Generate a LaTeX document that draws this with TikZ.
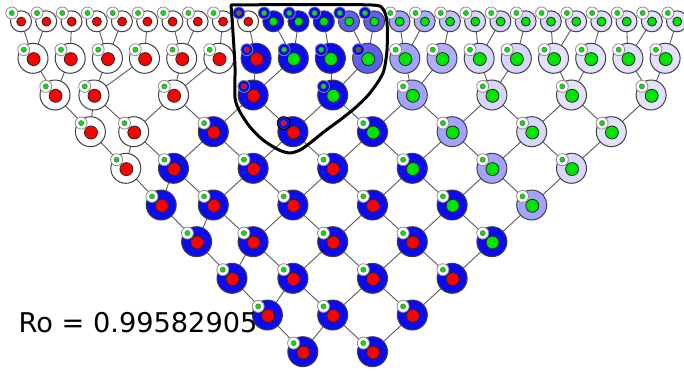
\documentclass[tikz,border=0pt]{standalone}
\usepackage{fontspec}
\newfontfamily\djv{DejaVu Sans}
\usetikzlibrary{backgrounds}
\definecolor{cblue}{RGB}{10,10,245}
\definecolor{cmed}{RGB}{95,95,240}
\definecolor{clbA}{RGB}{162,162,255}
\definecolor{clbB}{RGB}{175,175,255}
\definecolor{clbC}{RGB}{195,195,255}
\definecolor{clavA}{RGB}{214,214,255}
\definecolor{clavB}{RGB}{226,226,255}
\definecolor{cred}{RGB}{255,0,0}
\definecolor{cgreen}{RGB}{0,230,0}
\definecolor{colive}{RGB}{110,110,0}
\definecolor{colivg}{RGB}{70,120,0}
\tikzset{
 outerbig/.style={circle,draw=black!75,line width=1pt,minimum size=30pt,inner sep=0pt,outer sep=0pt},
 outersm/.style={circle,draw=black!75,line width=1pt,minimum size=21pt,inner sep=0pt,outer sep=0pt},
 corebig/.style={circle,draw=black!85,line width=0.8pt,minimum size=13pt,inner sep=0pt},
 coresm/.style={circle,draw=black!85,line width=0.8pt,minimum size=9pt,inner sep=0pt},
 badge/.style={circle,draw=black!45,line width=0.8pt,minimum size=12pt,inner sep=0pt},
 badgedot/.style={circle,draw=black!60,line width=0.5pt,minimum size=5.2pt,inner sep=0pt},
 edgeln/.style={draw=black!65,line width=0.9pt},
 loopline/.style={draw=black,line width=3pt,line cap=round,line join=round},
}
\newcommand\BN[7]{%
 \node[outerbig,fill=#4] (#1) at (#2,#3) {};
 \node[corebig,fill=#5] (#1c) at ({#2+0.6},{#3+0.8}) {};
 \node[badge,fill=#6] (#1b) at ({#2-9.2},{#3-8.6}) {};
 \node[badgedot,fill=#7] (#1d) at (#1b.center) {};
}
\newcommand\SN[7]{%
 \node[outersm,fill=#4] (#1) at (#2,#3) {};
 \node[coresm,fill=#5] (#1c) at ({#2+0.2},{#3+0.3}) {};
 \node[badge,fill=#6] (#1b) at ({#2-9.2},{#3-8.3}) {};
 \node[badgedot,fill=#7] (#1d) at (#1b.center) {};
}
\begin{document}
\begin{tikzpicture}[x=1pt,y=-1pt]
\useasboundingbox (0,0) rectangle (684,370);
% row 1
\SN{n1-0}{21.0}{21.3}{white}{cred}{white}{cgreen}
\SN{n1-1}{46.2}{21.3}{white}{cred}{white}{cgreen}
\SN{n1-2}{71.5}{21.3}{white}{cred}{white}{cgreen}
\SN{n1-3}{96.7}{21.3}{white}{cred}{white}{cgreen}
\SN{n1-4}{121.9}{21.3}{white}{cred}{white}{cgreen}
\SN{n1-5}{147.2}{21.3}{white}{cred}{white}{cgreen}
\SN{n1-6}{172.4}{21.3}{white}{cred}{white}{cgreen}
\SN{n1-7}{197.6}{21.3}{white}{cred}{white}{cgreen}
\SN{n1-8}{222.8}{21.3}{white}{cred}{white}{cgreen}
\SN{n1-9}{248.1}{21.3}{white}{cred}{cblue}{colive}
\SN{n1-10}{273.3}{21.3}{cblue}{cgreen}{cblue}{cgreen}
\SN{n1-11}{298.5}{21.3}{cblue}{cgreen}{cblue}{cgreen}
\SN{n1-12}{323.8}{21.3}{cblue}{cgreen}{cblue}{cgreen}
\SN{n1-13}{349.0}{21.3}{cmed}{cgreen}{cblue}{cgreen}
\SN{n1-14}{374.2}{21.3}{cmed}{cgreen}{cblue}{cgreen}
\SN{n1-15}{399.5}{21.3}{clbA}{cgreen}{white}{cgreen}
\SN{n1-16}{424.7}{21.3}{clbB}{cgreen}{white}{cgreen}
\SN{n1-17}{449.9}{21.3}{clbC}{cgreen}{white}{cgreen}
\SN{n1-18}{475.1}{21.3}{clavA}{cgreen}{white}{cgreen}
\SN{n1-19}{500.4}{21.3}{clavA}{cgreen}{white}{cgreen}
\SN{n1-20}{525.6}{21.3}{clavA}{cgreen}{white}{cgreen}
\SN{n1-21}{550.8}{21.3}{clavA}{cgreen}{white}{cgreen}
\SN{n1-22}{576.1}{21.3}{clavB}{cgreen}{white}{cgreen}
\SN{n1-23}{601.3}{21.3}{clavB}{cgreen}{white}{cgreen}
\SN{n1-24}{626.5}{21.3}{clavB}{cgreen}{white}{cgreen}
\SN{n1-25}{651.8}{21.3}{clavB}{cgreen}{white}{cgreen}
\SN{n1-26}{677.0}{21.3}{clavB}{cgreen}{white}{cgreen}
% row 2
\BN{n2-0}{33.0}{58.3}{white}{cred}{white}{cgreen}
\BN{n2-1}{70.2}{58.3}{white}{cred}{white}{cgreen}
\BN{n2-2}{107.4}{58.3}{white}{cred}{white}{cgreen}
\BN{n2-3}{144.5}{58.3}{white}{cred}{white}{cgreen}
\BN{n2-4}{181.7}{58.3}{white}{cred}{white}{cgreen}
\BN{n2-5}{218.9}{58.3}{white}{cred}{white}{cgreen}
\BN{n2-6}{256.1}{58.3}{cblue}{cred}{cblue}{cred}
\BN{n2-7}{293.3}{58.3}{cblue}{cgreen}{cblue}{cgreen}
\BN{n2-8}{330.4}{58.3}{cblue}{cgreen}{cblue}{cgreen}
\BN{n2-9}{367.6}{58.3}{cmed}{cgreen}{cblue}{colivg}
\BN{n2-10}{404.8}{58.3}{clbA}{cgreen}{white}{cgreen}
\BN{n2-11}{442.0}{58.3}{clbB}{cgreen}{white}{cgreen}
\BN{n2-12}{479.2}{58.3}{clavA}{cgreen}{white}{cgreen}
\BN{n2-13}{516.3}{58.3}{clavA}{cgreen}{white}{cgreen}
\BN{n2-14}{553.5}{58.3}{clavB}{cgreen}{white}{cgreen}
\BN{n2-15}{590.7}{58.3}{clavB}{cgreen}{white}{cgreen}
\BN{n2-16}{627.9}{58.3}{clavB}{cgreen}{white}{cgreen}
\BN{n2-17}{665.1}{58.3}{clavB}{cgreen}{white}{cgreen}
% row 3
\BN{n3-0}{55.0}{95.0}{white}{cred}{white}{cgreen}
\BN{n3-1}{93.9}{95.0}{white}{cred}{white}{cgreen}
\BN{n3-2}{173.5}{95.0}{white}{cred}{white}{cgreen}
\BN{n3-3}{253.1}{95.0}{cblue}{cred}{cblue}{cred}
\BN{n3-4}{332.7}{95.0}{cblue}{cgreen}{cblue}{cgreen}
\BN{n3-5}{412.3}{95.0}{clbA}{cgreen}{white}{cgreen}
\BN{n3-6}{491.9}{95.0}{clavA}{cgreen}{white}{cgreen}
\BN{n3-7}{571.5}{95.0}{clavB}{cgreen}{white}{cgreen}
\BN{n3-8}{651.1}{95.0}{clavB}{cgreen}{white}{cgreen}
% row 4
\BN{n4-0}{90.4}{131.7}{white}{cred}{white}{cgreen}
\BN{n4-1}{133.7}{131.7}{white}{cred}{white}{cgreen}
\BN{n4-2}{213.3}{131.7}{cblue}{cred}{white}{cgreen}
\BN{n4-3}{292.9}{131.7}{cblue}{cred}{cblue}{cred}
\draw[black,line width=1.2pt] (n4-3b) circle (6.3pt);
\BN{n4-4}{372.5}{131.7}{cblue}{cgreen}{white}{cgreen}
\BN{n4-5}{452.1}{131.7}{clbA}{cgreen}{white}{cgreen}
\BN{n4-6}{531.7}{131.7}{clavA}{cgreen}{white}{cgreen}
\BN{n4-7}{611.3}{131.7}{clavB}{cgreen}{white}{cgreen}
% row 5
\BN{n5-0}{125.8}{168.3}{white}{cred}{white}{cgreen}
\BN{n5-1}{173.5}{168.3}{cblue}{cred}{white}{cgreen}
\BN{n5-2}{253.1}{168.3}{cblue}{cred}{white}{cgreen}
\BN{n5-3}{332.7}{168.3}{cblue}{cred}{white}{cgreen}
\BN{n5-4}{412.3}{168.3}{cblue}{cgreen}{white}{cgreen}
\BN{n5-5}{491.9}{168.3}{clbA}{cgreen}{white}{cgreen}
\BN{n5-6}{571.5}{168.3}{clavA}{cgreen}{white}{cgreen}
% row 6
\BN{n6-0}{161.2}{205.0}{cblue}{cred}{white}{cgreen}
\BN{n6-1}{213.3}{205.0}{cblue}{cred}{white}{cgreen}
\BN{n6-2}{292.9}{205.0}{cblue}{cred}{white}{cgreen}
\BN{n6-3}{372.5}{205.0}{cblue}{cred}{white}{cgreen}
\BN{n6-4}{452.1}{205.0}{cblue}{cgreen}{white}{cgreen}
\BN{n6-5}{531.7}{205.0}{clbA}{cgreen}{white}{cgreen}
% row 7
\BN{n7-0}{196.6}{241.7}{cblue}{cred}{white}{cgreen}
\BN{n7-1}{253.1}{241.7}{cblue}{cred}{white}{cgreen}
\BN{n7-2}{332.7}{241.7}{cblue}{cred}{white}{cgreen}
\BN{n7-3}{412.3}{241.7}{cblue}{cred}{white}{cgreen}
\BN{n7-4}{491.9}{241.7}{cblue}{cgreen}{white}{cgreen}
% row 8
\BN{n8-0}{232.0}{278.3}{cblue}{cred}{white}{cgreen}
\BN{n8-1}{292.9}{278.3}{cblue}{cred}{white}{cgreen}
\BN{n8-2}{372.5}{278.3}{cblue}{cred}{white}{cgreen}
\BN{n8-3}{452.1}{278.3}{cblue}{cred}{white}{cgreen}
% row 9
\BN{n9-0}{267.4}{315.0}{cblue}{cred}{white}{cgreen}
\BN{n9-1}{332.7}{315.0}{cblue}{cred}{white}{cgreen}
\BN{n9-2}{412.3}{315.0}{cblue}{cred}{white}{cgreen}
% row 10
\BN{n10-0}{302.8}{351.7}{cblue}{cred}{white}{cgreen}
\BN{n10-1}{372.5}{351.7}{cblue}{cred}{white}{cgreen}
% connectors
\begin{pgfonlayer}{background}
\foreach \a/\b in {0/0,1/0,2/1,3/2,4/2,5/3,6/4,7/4,8/5,9/6,10/7,11/7,12/8,13/9,14/9,15/10,16/10,17/11,18/12,19/12,20/13,21/14,22/14,23/15,24/16,25/16,26/17}
  \draw[edgeln] (n1-\a) -- (n2-\b);
\foreach \a/\b in {0/0,1/0,2/1,3/1,4/2,5/2,6/3,7/3,8/4,9/4,10/5,11/5,12/6,13/6,14/7,15/7,16/8,17/8}
  \draw[edgeln] (n2-\a) -- (n3-\b);
\foreach \r in {3,...,9}{
  \pgfmathtruncatemacro\rr{\r+1}
  \pgfmathtruncatemacro\lastA{10-\r}
  \pgfmathtruncatemacro\lastB{11-\r}
  \foreach \i in {0,...,\lastA}{ \draw[edgeln] (n\r-\i) -- (n\rr-\i); }
  \foreach \i in {1,...,\lastB}{ \pgfmathtruncatemacro\im{\i-1} \draw[edgeln] (n\r-\i) -- (n\rr-\im); }
}
\end{pgfonlayer}
% hand-drawn loop
\draw[loopline] plot[smooth,tension=0.45] coordinates {(231,5) (300,4.5) (372,5) (383,9) (387,22) (387,50) (383,73) (370,93) (355,108) (340,120) (325,131) (310,143) (300,150) (290,153) (279,150) (263,140) (250,127) (240,112) (235,98) (235,67) (233,33) (231,5)};
\fill[black] (321.7,250) circle (1.1pt);
\node[anchor=base west,inner sep=0pt,font=\djv\fontsize{27.2pt}{32pt}\selectfont] (ro) at (18.5,332.7) {Ro = 0.99582905};
\end{tikzpicture}
\end{document}
